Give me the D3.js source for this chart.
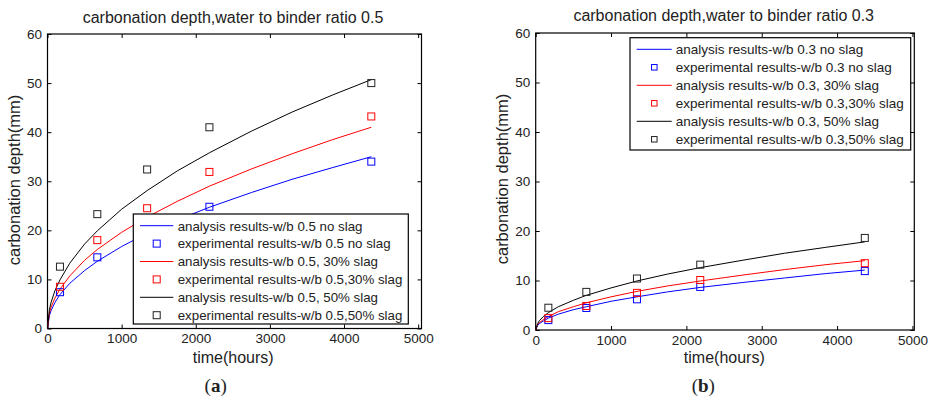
<!DOCTYPE html>
<html><head><meta charset="utf-8">
<script src="https://cdn.jsdelivr.net/npm/d3@7/dist/d3.min.js"></script>
<style>body{margin:0;background:#fff}svg{display:block}text{font-family:"Liberation Sans",Arial,sans-serif;fill:#222;font-weight:normal}</style>
</head><body><svg id="c" width="931" height="401"></svg>
<script>
// ---- data ----
const xTicks = [0, 1000, 2000, 3000, 4000, 5000];
const yTicks = [0, 10, 20, 30, 40, 50, 60];
const curveTime = [0, 25, 50, 100, 168, 300, 500, 672, 1000, 1344, 1750, 2184, 2750, 3300, 3850, 4368];
const expTime = [168, 672, 1344, 2184, 4368];
// w/b 0.5
const a05NoSlag = [0, 2.6, 3.7, 5.3, 6.9, 9.2, 11.8, 13.7, 16.7, 19.4, 22.1, 24.7, 27.7, 30.4, 32.8, 35.0];
const a0530Slag = [0, 3.1, 4.4, 6.2, 8.0, 10.7, 13.9, 16.1, 19.6, 22.7, 25.9, 29.0, 32.5, 35.6, 38.5, 41.0];
const a0550Slag = [0, 3.8, 5.4, 7.7, 9.9, 13.3, 17.2, 19.9, 24.3, 28.1, 32.1, 35.8, 40.2, 44.1, 47.6, 50.7];
const e05NoSlag = [7.4, 14.5, 19.5, 24.8, 34.0];
const e0530Slag = [8.5, 18.0, 24.5, 31.9, 43.2];
const e0550Slag = [12.6, 23.3, 32.4, 41.0, 50.0];
// w/b 0.3
const a03NoSlag = [0, 0.9, 1.3, 1.8, 2.4, 3.2, 4.1, 4.7, 5.8, 6.7, 7.7, 8.6, 9.6, 10.5, 11.4, 12.1];
const a0330Slag = [0, 1.1, 1.5, 2.1, 2.7, 3.7, 4.7, 5.5, 6.7, 7.8, 8.9, 9.9, 11.1, 12.2, 13.2, 14.0];
const a0350Slag = [0, 1.3, 1.9, 2.7, 3.5, 4.7, 6.0, 7.0, 8.5, 9.9, 11.3, 12.6, 14.1, 15.5, 16.7, 17.8];
const e03NoSlag = [2.0, 4.45, 6.2, 8.7, 11.9];
const e0330Slag = [2.4, 4.85, 7.5, 10.1, 13.5];
const e0350Slag = [4.5, 7.7, 10.4, 13.2, 18.6];
const titles = ["carbonation depth,water to binder ratio 0.5", "carbonation depth,water to binder ratio 0.3"];
const legend05 = ["analysis results-w/b 0.5 no slag", "experimental results-w/b 0.5 no slag",
  "analysis results-w/b 0.5, 30% slag", "experimental results-w/b 0.5,30% slag",
  "analysis results-w/b 0.5, 50% slag", "experimental results-w/b 0.5,50% slag"];
const legend03 = ["analysis results-w/b 0.3 no slag", "experimental results-w/b 0.3 no slag",
  "analysis results-w/b 0.3, 30% slag", "experimental results-w/b 0.3,30% slag",
  "analysis results-w/b 0.3, 50% slag", "experimental results-w/b 0.3,50% slag"];
const colors = ["#0000ff", "#ff0000", "#000000"];

const svg = d3.select("#c");

function panel(cfg) {
  const x = d3.scaleLinear().domain([0, cfg.xMax]).range([cfg.x0, cfg.x1]);
  const y = d3.scaleLinear().domain([0, 60]).range([cfg.y0, cfg.y1]);
  const g = svg.append("g");
  const fmt = d3.format("d");
  // axes
  const ax = g.append("g").attr("transform", `translate(0,${cfg.y0})`)
    .call(d3.axisBottom(x).tickValues(xTicks).tickFormat(fmt).tickSizeInner(-4).tickSizeOuter(0).tickPadding(5));
  const axT = g.append("g").attr("transform", `translate(0,${cfg.y1})`)
    .call(d3.axisTop(x).tickValues(xTicks).tickSizeInner(-4).tickSizeOuter(0).tickFormat(""));
  const ay = g.append("g").attr("transform", `translate(${cfg.x0},0)`)
    .call(d3.axisLeft(y).tickValues(yTicks).tickFormat(fmt).tickSizeInner(-4).tickSizeOuter(0).tickPadding(5.5));
  const ayR = g.append("g").attr("transform", `translate(${cfg.x1},0)`)
    .call(d3.axisRight(y).tickValues(yTicks).tickSizeInner(-4).tickSizeOuter(0).tickFormat(""));
  [ax, axT, ay, ayR].forEach(a => {
    a.select(".domain").remove();
    a.selectAll("line").attr("stroke", "#000");
    a.selectAll("text").attr("font-size", 13.5).attr("fill", "#222")
      .style("font-family", '"Liberation Sans",Arial,sans-serif');
  });
  // frame
  g.append("rect").attr("x", cfg.x0).attr("y", cfg.y1)
    .attr("width", cfg.x1 - cfg.x0).attr("height", cfg.y0 - cfg.y1)
    .attr("fill", "none").attr("stroke", "#000").attr("stroke-width", 1.2);
  // curves
  const line = d3.line().x((d, i) => x(curveTime[i])).y(d => y(d));
  cfg.curves.forEach((c, k) => {
    g.append("path").datum(c).attr("d", line).attr("fill", "none")
      .attr("stroke", colors[k]).attr("stroke-width", 1);
  });
  const ms = 7;
  cfg.exps.forEach((e, k) => {
    g.append("g").selectAll("rect").data(e).join("rect")
      .attr("x", (d, i) => x(expTime[i]) - ms / 2).attr("y", d => y(d) - ms / 2)
      .attr("width", ms).attr("height", ms).attr("fill", "none")
      .attr("stroke", k === 2 ? "#222" : colors[k]).attr("stroke-width", 1);
  });
  // legend
  const L = cfg.leg;
  g.append("rect").attr("x", L.x).attr("y", L.y).attr("width", L.w).attr("height", L.h)
    .attr("fill", "#fff").attr("stroke", "#000").attr("stroke-width", 1.2);
  cfg.legText.forEach((t, i) => {
    const cy = L.row0 + i * L.dy;
    const k = Math.floor(i / 2);
    if (i % 2 === 0) {
      g.append("line").attr("x1", L.lx0).attr("x2", L.lx1).attr("y1", cy).attr("y2", cy)
        .attr("stroke", colors[k]).attr("stroke-width", 1);
    } else {
      const s = L.ms;
      g.append("rect").attr("x", L.mx - s / 2).attr("y", cy - s / 2).attr("width", s).attr("height", s)
        .attr("fill", "none").attr("stroke", k === 2 ? "#222" : colors[k]).attr("stroke-width", 1);
    }
    g.append("text").attr("x", L.tx).attr("y", cy + 4.8).attr("font-size", L.fs).text(t);
  });
  // titles and labels
  g.append("text").attr("x", cfg.tcx).attr("y", cfg.tby).attr("text-anchor", "middle")
    .attr("font-size", 16).text(cfg.title);
  g.append("text").attr("x", cfg.xlx).attr("y", 362.5).attr("text-anchor", "middle")
    .attr("font-size", 16).text("time(hours)");
  g.append("text").attr("transform", `translate(${cfg.ylx},${cfg.yly}) rotate(-90)`)
    .attr("text-anchor", "middle").attr("font-size", 16.5).text("carbonation depth(mm)");
  const cap = g.append("text").attr("x", cfg.capx).attr("y", 392).attr("text-anchor", "middle")
    .attr("font-size", 19).style("font-family", '"Liberation Serif","Times New Roman",serif');
  cap.append("tspan").text("(");
  cap.append("tspan").attr("font-weight", "bold").text(cfg.cap);
  cap.append("tspan").text(")");
}

panel({
  x0: 47.5, x1: 421.5, xMax: 5045, y0: 328.5, y1: 34,
  curves: [a05NoSlag, a0530Slag, a0550Slag], exps: [e05NoSlag, e0530Slag, e0550Slag],
  leg: {x: 133.3, y: 214, w: 275, h: 110, row0: 225.7, dy: 17.9, lx0: 140, lx1: 173.3, mx: 156.7, ms: 7, tx: 177.7, fs: 13.3},
  legText: legend05, title: titles[0], tcx: 233, tby: 22.5, xlx: 233.2, ylx: 20, yly: 180, capx: 215.7, cap: "a"
});
panel({
  x0: 535.7, x1: 914.3, xMax: 5025, y0: 330, y1: 33,
  curves: [a03NoSlag, a0330Slag, a0350Slag], exps: [e03NoSlag, e0330Slag, e0350Slag],
  leg: {x: 630, y: 37.7, w: 280.7, h: 112.3, row0: 49.3, dy: 18, lx0: 636.7, lx1: 671.7, mx: 654.3, ms: 5.5, tx: 675.7, fs: 13.5},
  legText: legend03, title: titles[1], tcx: 723.7, tby: 20.7, xlx: 724.3, ylx: 508, yly: 179, capx: 703.3, cap: "b"
});
</script>
</body></html>
